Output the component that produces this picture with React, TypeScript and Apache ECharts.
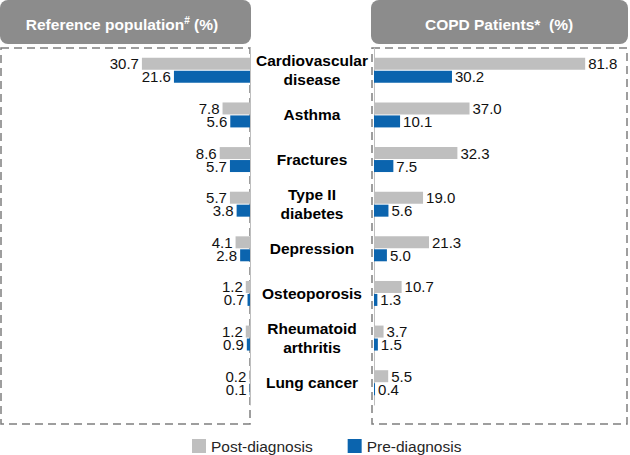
import React, { useEffect, useRef } from "react";
import * as echarts from "echarts";

const categories = [
  "Cardiovascular\ndisease",
  "Asthma",
  "Fractures",
  "Type II\ndiabetes",
  "Depression",
  "Osteoporosis",
  "Rheumatoid\narthritis",
  "Lung cancer",
];
const refPost = [30.7, 7.8, 8.6, 5.7, 4.1, 1.2, 1.2, 0.2];
const refPre = [21.6, 5.6, 5.7, 3.8, 2.8, 0.7, 0.9, 0.1];
const copdPost = [81.8, 37.0, 32.3, 19.0, 21.3, 10.7, 3.7, 5.5];
const copdPre = [30.2, 10.1, 7.5, 5.6, 5.0, 1.3, 1.5, 0.4];
const legendNames = ["Post-diagnosis", "Pre-diagnosis"];

const GRAY = "#bfbfbf";
const BLUE = "#0b64ae";
const FONT = "Liberation Sans, Arial, sans-serif";

export default function App() {
  const ref = useRef<HTMLDivElement>(null);
  useEffect(() => {
    const chart = echarts.init(ref.current!, null, { renderer: "svg" });
    const label = (pos: string) => ({
      show: true,
      position: pos,
      distance: 3,
      fontSize: 15,
      lineHeight: 12,
      fontFamily: FONT,
      color: "#111",
      formatter: (p: any) => Number(p.value).toFixed(1),
    });
    const barCommon = { barWidth: 12, barGap: "8%" };
    chart.setOption({
      animation: false,
      textStyle: { fontFamily: FONT },
      legend: {
        data: legendNames,
        left: 187,
        top: 433,
        icon: "rect",
        itemWidth: 14,
        itemHeight: 14,
        itemGap: 35,
        textStyle: { fontSize: 15.5, lineHeight: 16, color: "#262626", fontFamily: FONT },
      },
      grid: [
        { left: 0, right: 380, top: 48, height: 357 },
        { left: 374, right: 3, top: 48, height: 357 },
      ],
      xAxis: [
        { gridIndex: 0, type: "value", min: 0, max: 71, inverse: true, show: false },
        { gridIndex: 1, type: "value", min: 0, max: 98, show: false },
      ],
      yAxis: [
        {
          gridIndex: 0,
          type: "category",
          data: categories,
          inverse: true,
          position: "right",
          axisLine: { lineStyle: { color: "#bfbfbf", width: 1 } },
          axisTick: { length: 3, lineStyle: { color: "#bfbfbf" } },
          axisLabel: { show: false },
        },
        {
          gridIndex: 1,
          type: "category",
          data: categories,
          inverse: true,
          position: "left",
          axisLine: { lineStyle: { color: "#bfbfbf", width: 1 } },
          axisTick: { length: 3, lineStyle: { color: "#bfbfbf" } },
          axisLabel: {
            margin: 62,
            align: "center",
            fontSize: 15.5,
            fontWeight: "bold",
            lineHeight: 19,
            color: "#000",
            fontFamily: FONT,
          },
        },
      ],
      series: [
        { name: legendNames[0], type: "bar", xAxisIndex: 0, yAxisIndex: 0, data: refPost, itemStyle: { color: GRAY }, label: label("left"), ...barCommon },
        { name: legendNames[1], type: "bar", xAxisIndex: 0, yAxisIndex: 0, data: refPre, itemStyle: { color: BLUE }, label: label("left"), ...barCommon },
        { name: legendNames[0], type: "bar", xAxisIndex: 1, yAxisIndex: 1, data: copdPost, itemStyle: { color: GRAY }, label: label("right"), ...barCommon },
        { name: legendNames[1], type: "bar", xAxisIndex: 1, yAxisIndex: 1, data: copdPre, itemStyle: { color: BLUE }, label: label("right"), ...barCommon },
      ],
      graphic: [
        { type: "rect", z: -1, shape: { x: 1, y: 48, width: 249, height: 376 }, style: { fill: "none", stroke: "#7f7f7f", lineWidth: 1.5, lineDash: [8, 5] } },
        { type: "rect", z: -1, shape: { x: 372, y: 48, width: 255, height: 376 }, style: { fill: "none", stroke: "#7f7f7f", lineWidth: 1.5, lineDash: [8, 5] } },
        { type: "rect", shape: { x: 0, y: 0, width: 251, height: 44, r: 8 }, style: { fill: "#8c8c8c" } },
        { type: "rect", shape: { x: 371, y: 0, width: 257, height: 44, r: 8 }, style: { fill: "#8c8c8c" } },
        {
          type: "text",
          x: 122,
          y: 24,
          style: {
            text: "{a|Reference population}{s|#}{a| (%)}",
            align: "center",
            verticalAlign: "middle",
            rich: {
              a: { fontSize: 15.5, fontWeight: "bold", fill: "#fff", fontFamily: FONT },
              s: { fontSize: 10, fontWeight: "bold", fill: "#fff", fontFamily: FONT, padding: [0, 0, 7, 0] },
            },
          },
        },
        {
          type: "text",
          x: 499,
          y: 24,
          style: {
            text: "COPD Patients*  (%)",
            align: "center",
            verticalAlign: "middle",
            fontSize: 15.5,
            fontWeight: "bold",
            fill: "#fff",
            fontFamily: FONT,
          },
        },
      ],
    });
    return () => chart.dispose();
  }, []);
  return (
    <div
      ref={ref}
      style={{ position: "fixed", left: 0, top: 0, width: 630, height: 455, background: "#fff" }}
    />
  );
}
